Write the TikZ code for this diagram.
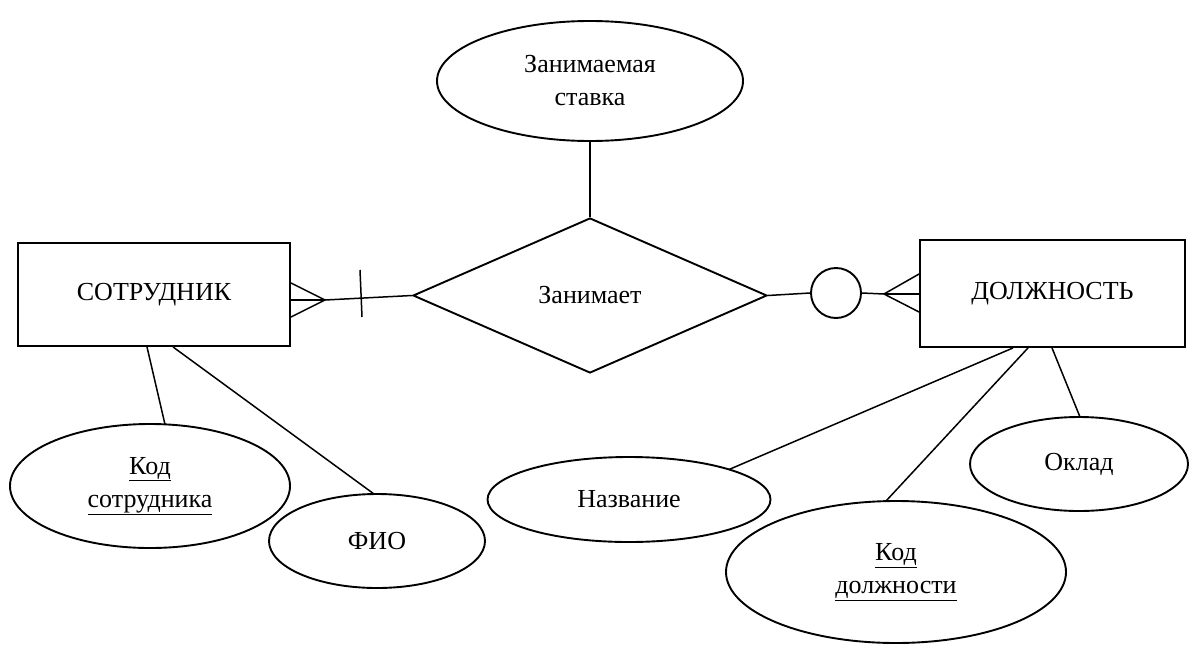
\documentclass[tikz,border=0pt]{standalone}
\usepackage{fontspec}
\setmainfont{Liberation Serif}
\usetikzlibrary{shapes.geometric,calc}
\begin{document}
\begin{tikzpicture}[x=1pt,y=-1pt,
  every node/.style={font=\fontsize{26}{33}\selectfont, align=center, inner sep=0pt},
  ent/.style={draw, line width=1.9pt, rectangle},
  attr/.style={draw, line width=1.9pt, ellipse},
  rel/.style={draw, line width=1.9pt, diamond, aspect=2.28},
  conn/.style={line width=1.5pt},
]
\useasboundingbox (0,0) rectangle (1196,648);
% entities
\node[ent, minimum width=272pt, minimum height=103pt] (sotr) at (154,294.5) {СОТРУДНИК};
\node[ent, minimum width=265pt, minimum height=107pt] (dolzh) at (1052.5,293.5) {ДОЛЖНОСТЬ};
% relationship
\node[rel, minimum width=354pt, minimum height=155pt] (zan) at (590,295.5) {Занимает};
% attributes
\node[attr, minimum width=306pt, minimum height=120pt] (stavka) at (590,81) {Занимаемая\\ставка};
\node[attr, minimum width=280pt, minimum height=124pt] (kods) at (150,486) {\underline{Код}\\\underline{сотрудника}};
\node[attr, minimum width=216pt, minimum height=94pt] (fio) at (377,541) {ФИО};
\node[attr, minimum width=283pt, minimum height=85pt] (nazv) at (629,499.5) {Название};
\node[attr, minimum width=340pt, minimum height=142pt] (kodd) at (896,572) {\underline{Код}\\\underline{должности}};
\node[attr, minimum width=218pt, minimum height=94pt] (oklad) at (1079,464) {Оклад};
% optional circle
\node[draw, circle, line width=1.9pt, minimum size=50pt] (circ) at (836,293) {};
% helper coordinates
\coordinate (apexL) at (325,300);
\coordinate (apexR) at (884,294);
\coordinate (tick) at (361,294);
% connectors
\draw[conn] (stavka.south) -- (zan.north);
\draw[conn] (apexL) -- (zan.west);
\draw[conn] ([shift={(0,-11.5)}]sotr.east) -- (apexL);
\draw[conn] ([shift={(0,5.5)}]sotr.east) -- (apexL);
\draw[conn] ([shift={(0,22.5)}]sotr.east) -- (apexL);
\draw[conn] ([shift={(-1,-24)}]tick) -- ([shift={(1,23)}]tick);
\draw[conn] (zan.east) -- (circ.west);
\draw[conn] (circ.east) -- (apexR);
\draw[conn] (apexR) -- ([shift={(0,-19.5)}]dolzh.west);
\draw[conn] (apexR) -- ([shift={(0,0.5)}]dolzh.west);
\draw[conn] (apexR) -- ([shift={(0,18.5)}]dolzh.west);
\draw[conn] ([shift={(-7,0)}]sotr.south) -- ([shift={(15,-61.6)}]kods.center);
\draw[conn] ([shift={(19,0)}]sotr.south) -- ([shift={(-3,-47)}]fio.center);
\draw[conn] ([shift={(-39.5,0)}]dolzh.south) -- ([shift={(100,-30)}]nazv.center);
\draw[conn] ([shift={(-24.5,0)}]dolzh.south) -- ([shift={(-10,-71)}]kodd.center);
\draw[conn] ([shift={(-0.5,0)}]dolzh.south) -- ([shift={(1,-47)}]oklad.center);
\end{tikzpicture}
\end{document}
